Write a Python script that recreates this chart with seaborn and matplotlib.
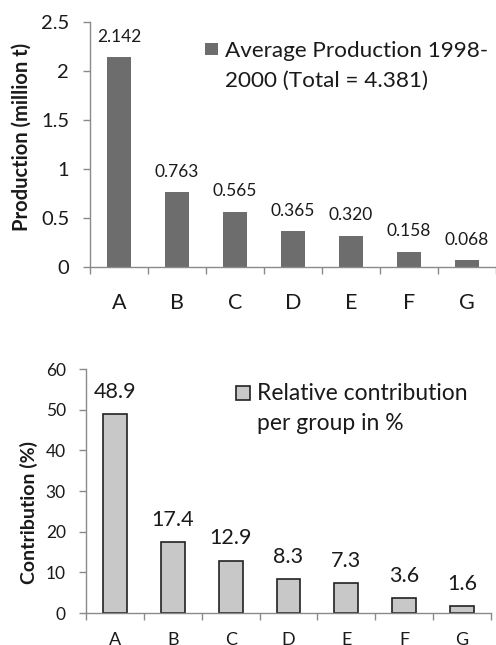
import matplotlib
matplotlib.use("Agg")
import matplotlib.pyplot as plt
from matplotlib.patches import Rectangle
from matplotlib.ticker import FixedLocator
import seaborn as sns
import pandas as pd
import numpy as np

groups = ["A", "B", "C", "D", "E", "F", "G"]
production = [2.142, 0.763, 0.565, 0.365, 0.320, 0.158, 0.068]
production_labels = ["2.142", "0.763", "0.565", "0.365", "0.320", "0.158", "0.068"]
contribution = [48.9, 17.4, 12.9, 8.3, 7.3, 3.6, 1.6]
contribution_labels = ["48.9", "17.4", "12.9", "8.3", "7.3", "3.6", "1.6"]
prod_ticks = [0, 0.5, 1, 1.5, 2, 2.5]
prod_ticklabels = ["0", "0.5", "1", "1.5", "2", "2.5"]
contrib_ticks = [0, 10, 20, 30, 40, 50, 60]

sns.set_style("white")
plt.rcParams["font.family"] = ["Lato", "DejaVu Sans"]

DARK = "#6d6d6d"
LIGHT = "#c8c8c8"
EDGE = "#222222"
SPINE = "#8a8a8a"
TEXT = "#1a1a1a"

df_prod = pd.DataFrame({"group": groups, "value": production})
df_con = pd.DataFrame({"group": groups, "value": contribution})

fig = plt.figure(figsize=(4.96, 6.45), dpi=100)
ax1 = fig.add_axes([90 / 496, 1 - 267 / 645, 406 / 496, 245 / 645])
ax2 = fig.add_axes([86 / 496, 1 - 613 / 645, 405 / 496, 244 / 645])


def style_axis(ax, xpad, ypad, xsize, ysize):
    ax.set_xlim(-0.5, len(groups) - 0.5)
    for side in ("top", "right"):
        ax.spines[side].set_visible(False)
    for side in ("left", "bottom"):
        ax.spines[side].set_color(SPINE)
        ax.spines[side].set_linewidth(1.0)
    ax.xaxis.set_minor_locator(FixedLocator(np.arange(-0.5, len(groups), 1.0)))
    ax.tick_params(axis="x", which="major", length=0, pad=xpad,
                   labelsize=xsize, labelcolor=TEXT)
    ax.tick_params(axis="x", which="minor", length=5, width=1.0,
                   color=SPINE, direction="out")
    ax.tick_params(axis="y", which="major", length=5, width=1.0, color=SPINE,
                   direction="out", pad=ypad, labelsize=ysize, labelcolor=TEXT)
    ax.tick_params(left=True, bottom=True, which="both")
    ax.set_xlabel("")


def legend_block(ax, px, py, pw, ph, tx, lines, baselines, face, edge, size):
    ax.add_patch(Rectangle((px, py), pw, ph, transform=ax.transAxes,
                           facecolor=face, edgecolor=edge, linewidth=1.2,
                           clip_on=False))
    for line, yb in zip(lines, baselines):
        ax.text(tx, yb, line, transform=ax.transAxes, fontsize=size,
                color=TEXT, va="baseline", ha="left")


# Upper panel: average production
sns.barplot(data=df_prod, x="group", y="value", color=DARK, width=0.41,
            saturation=1, edgecolor="none", ax=ax1)
ax1.set_ylim(0, 2.5)
ax1.set_yticks(prod_ticks)
ax1.set_yticklabels(prod_ticklabels)
style_axis(ax1, xpad=19, ypad=10, xsize=15.5, ysize=14.5)
ax1.set_ylabel("Production (million t)", fontsize=14.5, fontweight="bold",
               color=TEXT)
ax1.yaxis.set_label_coords(-0.143, 0.53)
ax1.bar_label(ax1.containers[0], labels=production_labels, padding=9,
              fontsize=12.5, color=TEXT)
legend_block(ax1, 0.283, 0.865, 0.032, 0.049, 0.3325,
             ["Average Production 1998-", "2000 (Total = 4.381)"],
             [0.857, 0.735], DARK, "none", 16.2)

# Lower panel: relative contribution
sns.barplot(data=df_con, x="group", y="value", color=LIGHT, width=0.41,
            saturation=1, edgecolor=EDGE, linewidth=1.2, ax=ax2)
ax2.set_ylim(0, 60)
ax2.set_yticks(contrib_ticks)
style_axis(ax2, xpad=14, ypad=9.5, xsize=13, ysize=12.5)
ax2.set_ylabel("Contribution (%)", fontsize=14, fontweight="bold",
               color=TEXT)
ax2.yaxis.set_label_coords(-0.118, 0.41)
ax2.bar_label(ax2.containers[0], labels=contribution_labels, padding=9,
              fontsize=15.5, color=TEXT)
legend_block(ax2, 0.370, 0.873, 0.0346, 0.057, 0.422,
             ["Relative contribution", "per group in %"],
             [0.873, 0.75], LIGHT, EDGE, 16.5)

fig.savefig("out.png", dpi=100)
